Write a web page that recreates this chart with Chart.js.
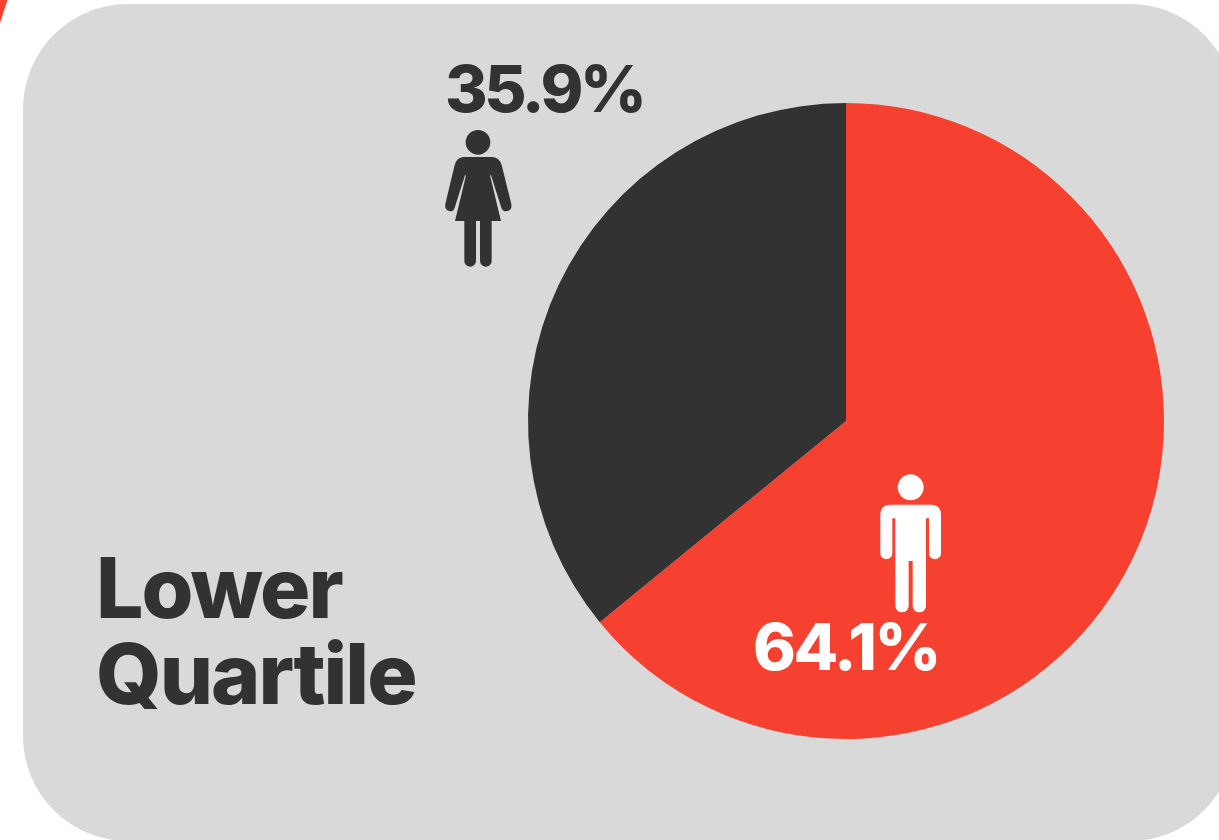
<!DOCTYPE html>
<html>
<head>
<meta charset="utf-8">
<title>Lower Quartile</title>
<script src="https://cdn.jsdelivr.net/npm/chart.js@4"></script>
<style>
  html, body { margin: 0; padding: 0; background: #fff; }
  #stage { position: relative; width: 1219px; height: 840px; overflow: hidden; }
  #panel { position: absolute; left: 23px; top: 4px; width: 1212px; height: 837px; background: #d9d9d9; border-radius: 105px; }
  #sliver { position: absolute; left: 0; top: 0; }
  #chart { position: absolute; left: 0; top: 0; }
  .t { position: absolute; font-family: Inter, "Liberation Sans", sans-serif; font-weight: 800; white-space: nowrap; line-height: 1; }
  #title { left: 96px; top: 545px; font-size: 84px; line-height: 86px; color: #323232; letter-spacing: -2px; }
  #pctWomen { left: 445px; top: 56px; font-size: 65px; color: #323232; letter-spacing: -3.4px; }
  #pctMen { left: 753px; top: 614px; font-size: 65px; color: #fff; letter-spacing: -2.4px; }
  svg.icon { position: absolute; }
</style>
</head>
<body>
<div id="stage">
  <svg id="sliver" width="12" height="26"><polygon points="0,0 7.5,0 0,23" fill="#f64130"/></svg>
  <div id="panel"></div>
  <canvas id="chart" width="1219" height="840"></canvas>
  <div class="t" id="title"></div>
  <div class="t" id="pctWomen"></div>
  <div class="t" id="pctMen"></div>
  <svg class="icon" style="left:420px;top:50px" width="240" height="230" viewBox="0 0 720 690">
    <circle cx="174" cy="277" r="37" fill="#323232"/>
    <path fill="#323232" d="M130 321H218Q238 323 245 345L274 462Q277 482 260 484Q247 485 243 470L213 376H210L243 513H215V633A17.5 17.5 0 0 1 180 633V513H168V633A17.5 17.5 0 0 1 133 633V513H105L138 376H135L105 470Q101 485 90 484Q73 482 76 462L104 345Q110 323 130 321Z"/>
  </svg>
  <svg class="icon" style="left:740px;top:460px" width="220" height="230" viewBox="0 0 660 690">
    <circle cx="512" cy="82" r="39" fill="#fff"/>
    <path fill="#fff" d="M450 134H574Q603 134 603 165V280A18 18 0 0 1 567 280V175H558V437A20 20 0 0 1 518 437V303H506V437A20 20 0 0 1 466 437V175H457V280A18 18 0 0 1 421 280V165Q421 134 450 134Z"/>
  </svg>
</div>
<script>
  const titleLines = ['Lower', 'Quartile'];
  const categories = ['Men', 'Women'];
  const shares = [64.1, 35.9];
  const sliceColors = ['#f64130', '#323232'];

  document.getElementById('title').innerHTML = titleLines.join('<br>');
  document.getElementById('pctMen').textContent = shares[0].toFixed(1) + '%';
  document.getElementById('pctWomen').textContent = shares[1].toFixed(1) + '%';

  new Chart(document.getElementById('chart'), {
    type: 'pie',
    data: {
      labels: categories,
      datasets: [{ data: shares, backgroundColor: sliceColors, borderWidth: 0 }]
    },
    options: {
      responsive: false,
      animation: false,
      layout: { padding: { left: 528, right: 55, top: 103, bottom: 101 } },
      plugins: { legend: { display: false }, tooltip: { enabled: false } }
    }
  });
</script>
</body>
</html>
